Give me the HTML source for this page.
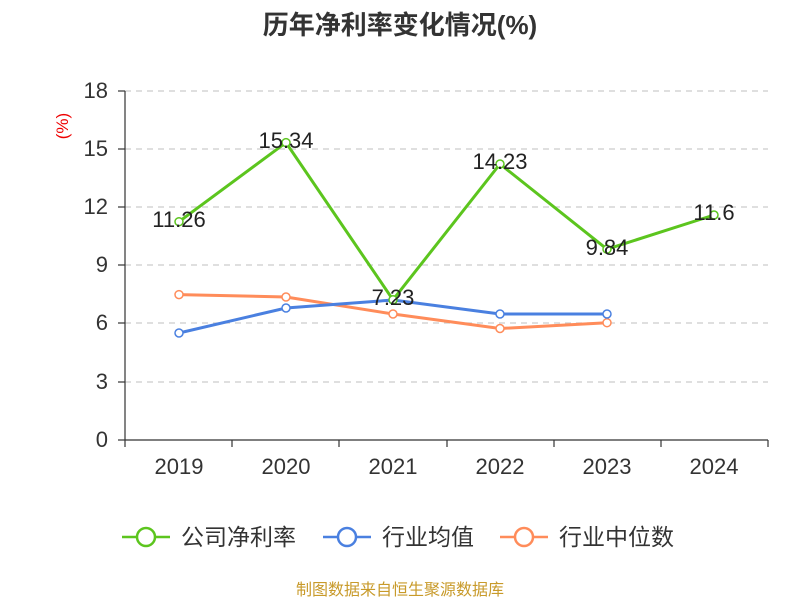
<!DOCTYPE html>
<html><head><meta charset="utf-8"><style>
body{margin:0;background:#fff;}
svg text{font-family:"Liberation Sans","Noto Sans CJK SC",sans-serif;}
</style></head><body>
<svg width="800" height="600" xmlns="http://www.w3.org/2000/svg">
<rect width="800" height="600" fill="#fff"/>
<text x="400" y="34" text-anchor="middle" font-size="26" font-weight="bold" fill="#333">历年净利率变化情况(%)</text>
<text x="68" y="126" font-size="17" fill="#e00" transform="rotate(-90 68 126)" text-anchor="middle">(%)</text>
<g stroke="#ccc" stroke-dasharray="6,5" stroke-width="1.2">
<line x1="125" y1="91" x2="768" y2="91"/><line x1="125" y1="149" x2="768" y2="149"/>
<line x1="125" y1="207" x2="768" y2="207"/><line x1="125" y1="265" x2="768" y2="265"/>
<line x1="125" y1="323" x2="768" y2="323"/><line x1="125" y1="382" x2="768" y2="382"/>
</g>
<g stroke="#333" stroke-width="1.2">
<line x1="125" y1="91" x2="125" y2="440"/><line x1="125" y1="440" x2="768" y2="440"/>
<line x1="118" y1="91" x2="125" y2="91"/><line x1="118" y1="149" x2="125" y2="149"/><line x1="118" y1="207" x2="125" y2="207"/><line x1="118" y1="265" x2="125" y2="265"/><line x1="118" y1="323" x2="125" y2="323"/><line x1="118" y1="382" x2="125" y2="382"/><line x1="118" y1="440" x2="125" y2="440"/>
<line x1="125" y1="440" x2="125" y2="447"/><line x1="232" y1="440" x2="232" y2="447"/><line x1="339" y1="440" x2="339" y2="447"/><line x1="447" y1="440" x2="447" y2="447"/><line x1="554" y1="440" x2="554" y2="447"/><line x1="661" y1="440" x2="661" y2="447"/><line x1="768" y1="440" x2="768" y2="447"/>
</g>
<g font-size="22" fill="#333" text-anchor="end">
<text x="108" y="98">18</text><text x="108" y="156">15</text><text x="108" y="214">12</text><text x="108" y="272">9</text><text x="108" y="330">6</text><text x="108" y="389">3</text><text x="108" y="447">0</text>
</g>
<g font-size="22" fill="#333" text-anchor="middle">
<text x="179" y="474">2019</text><text x="286" y="474">2020</text><text x="393" y="474">2021</text><text x="500" y="474">2022</text><text x="607" y="474">2023</text><text x="714" y="474">2024</text>
</g>
<polyline fill="none" stroke="#ff8c5a" stroke-width="3" points="179,294.6 286,297 393,314 500,328.5 607,322.7"/>
<polyline fill="none" stroke="#4a80e0" stroke-width="3" points="179,333 286,308 393,300 500,314 607,314"/>
<polyline fill="none" stroke="#5cc51e" stroke-width="3" points="179,221.7 286,142.6 393,299.8 500,164 607,249.2 714,215"/>
<g fill="#fff" stroke-width="1.5">
<g stroke="#ff8c5a"><circle cx="179" cy="294.6" r="4"/><circle cx="286" cy="297" r="4"/><circle cx="393" cy="314" r="4"/><circle cx="500" cy="328.5" r="4"/><circle cx="607" cy="322.7" r="4"/></g>
<g stroke="#4a80e0"><circle cx="179" cy="333" r="4"/><circle cx="286" cy="308" r="4"/><circle cx="393" cy="300" r="4"/><circle cx="500" cy="314" r="4"/><circle cx="607" cy="314" r="4"/></g>
<g stroke="#5cc51e"><circle cx="179" cy="221.7" r="4"/><circle cx="286" cy="142.6" r="4"/><circle cx="393" cy="299.8" r="4"/><circle cx="500" cy="164" r="4"/><circle cx="607" cy="249.2" r="4"/><circle cx="714" cy="215" r="4"/></g>
</g>
<g font-size="22" fill="#222" text-anchor="middle">
<text x="179" y="227">11.26</text><text x="286" y="148">15.34</text><text x="393" y="305">7.23</text><text x="500" y="169">14.23</text><text x="607" y="255">9.84</text><text x="714" y="220">11.6</text>
</g>
<g stroke-width="2.5" fill="#fff">
<line x1="122" y1="537" x2="170" y2="537" stroke="#5cc51e"/><circle cx="146" cy="537" r="9" stroke="#5cc51e"/>
<line x1="323" y1="537" x2="371" y2="537" stroke="#4a80e0"/><circle cx="347" cy="537" r="9" stroke="#4a80e0"/>
<line x1="500" y1="537" x2="548" y2="537" stroke="#ff8c5a"/><circle cx="524" cy="537" r="9" stroke="#ff8c5a"/>
</g>
<g font-size="23" fill="#333">
<text x="181" y="545">公司净利率</text><text x="382" y="545">行业均值</text><text x="559" y="545">行业中位数</text>
</g>
<text x="400" y="595" text-anchor="middle" font-size="16" fill="#c89a2a">制图数据来自恒生聚源数据库</text>
</svg>
</body></html>
